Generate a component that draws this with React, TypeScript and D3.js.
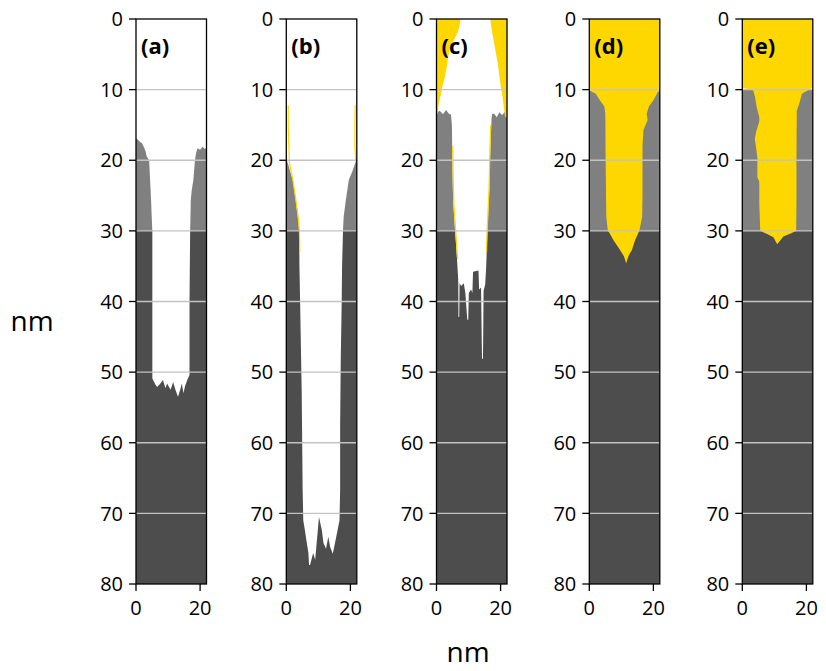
import React from "react";
import * as d3 from "d3";

type Pt = [number, number]; // [lateral position nm, depth nm]

// ---------- data ----------
const panelLabels = ["(a)", "(b)", "(c)", "(d)", "(e)"];
const depthTicks = [0, 10, 20, 30, 40, 50, 60, 70, 80];
const widthTicks = [0, 20];
const gridDepths = [10, 20, 30, 40, 50, 60, 70];
const substrateTop = 30;
const widthMax = 22;
const depthMax = 80;

// top surface of the mask layer (gray), left to right
const maskTopA: Pt[] = [[0, 16.9], [0.6, 17.1], [1.3, 17.4], [1.9, 17.6], [2.9, 18.6], [3.4, 19.5], [18.7, 19.0], [19.2, 18.3], [20, 18.5], [20.8, 18.1], [21.5, 18.4], [22, 18.2]];
const maskTopB: Pt[] = [[0, 19.8], [22, 19.8]];
const maskTopC: Pt[] = [[0, 13.3], [1, 13.0], [2, 13.5], [3, 12.9], [4, 13.5], [18, 13.4], [18.8, 13.9], [19.6, 13.2], [20.5, 13.6], [21.4, 13.1], [22, 13.9]];
const maskTopD: Pt[] = [[0, 10], [22, 10]];
const maskTopE: Pt[] = [[0, 10], [22, 10]];

// etched trench outlines (air): left wall down, bottom, right wall up
const trenchA: Pt[] = [
  [3.0, 15], [3.4, 19.5], [4.1, 20], [4.4, 22.8], [4.7, 25.6], [4.9, 28], [5.1, 30], [5.1, 40], [5.1, 50.9],
  [6.1, 51.8], [6.6, 52.1], [7.6, 51.6], [8.4, 51.1], [9.2, 52.3], [9.7, 51.6], [10.8, 52.5], [11.6, 51.4],
  [12.3, 52.5], [13.1, 53.5], [13.8, 52.5], [14.3, 51.6], [14.8, 53.0], [15.3, 52.0], [16.0, 51.1], [16.7, 50.4],
  [16.7, 40], [16.9, 30], [17.1, 25.6], [17.4, 24.2], [17.9, 22.8], [18.4, 20], [18.75, 19.0], [19.2, 15],
];
const trenchB: Pt[] = [
  [0, 10], [0, 19.8], [0.6, 20.6], [1.2, 21.6], [2.0, 22.8], [2.9, 25.6], [3.6, 28], [4.0, 29.9], [4.1, 35.1],
  [4.3, 39.8], [4.5, 45], [4.8, 52.5], [5.0, 62], [5.1, 66.7], [5.3, 71.0],
  [5.8, 72.4], [6.4, 74.2], [6.9, 75.6], [7.1, 77.3], [7.4, 77.3], [8.4, 75.6], [9.0, 76.6], [10.2, 70.5],
  [11.1, 72.4], [11.6, 74.2], [12.4, 75.0], [13.1, 73.3], [13.7, 74.8], [14.5, 75.7], [15.2, 74.2],
  [15.9, 72.6], [16.6, 71.0], [16.8, 66.7], [16.8, 57.5], [17.0, 48], [17.3, 39.8], [17.4, 35.1],
  [17.7, 29.9], [17.9, 28], [18.6, 25.6], [19.5, 22.8], [20.6, 21.6], [21.8, 20], [22, 19.8], [22, 10],
];
const trenchC: Pt[] = [
  [3.8, 11.5], [4.5, 13.5], [4.8, 15], [4.9, 18], [5.0, 22], [5.2, 26], [5.5, 28], [5.8, 30], [6.1, 32],
  [6.4, 34], [6.7, 36.3], [6.8, 37.4],
  [6.85, 42.2], [7.1, 42.2], [7.2, 37.4], [7.7, 37.8], [8.5, 37.4], [9.0, 38.8], [9.6, 42.6], [9.9, 42.6],
  [10.1, 38.8], [10.8, 38.3], [11.2, 38.8], [11.4, 35.8], [13.1, 35.6], [13.3, 38.3], [13.9, 38.0],
  [14.2, 48.1], [14.5, 48.1], [14.7, 38.5], [15.2, 37.6],
  [15.5, 35.1], [15.9, 30], [16.2, 27], [16.5, 24], [16.7, 20], [17.0, 16], [17.2, 14], [17.8, 12],
];

// deposited layer (yellow)
const depositC1: Pt[] = [[0, 0], [7.5, 0], [7.2, 1.0], [6.5, 2.0], [5.2, 3.2], [4.2, 4.2], [3.6, 5.5], [3.2, 6.8], [2.6, 8.2], [1.8, 9.6], [1.2, 11.0], [0.6, 12.4], [0.4, 13.4], [0, 13.4]];
const depositC2: Pt[] = [[16.8, 0], [22, 0], [22, 14.0], [21.4, 13.8], [21.0, 12.5], [20.6, 11], [20.1, 9.6], [19.6, 8.0], [19.2, 6.5], [18.6, 5.0], [18.0, 3.5], [17.4, 2.0], [17.0, 0.8]];
const depositD: Pt[] = [
  [0, 0], [22, 0], [22, 10.1], [21.3, 10.4], [20.0, 11.5], [18.6, 12.4], [17.9, 13.4], [18.2, 14.3], [16.9, 15.7],
  [16.6, 18], [16.6, 25], [16.5, 28], [15.6, 30], [15.3, 30.3], [14.3, 31.3], [13.3, 32.7], [12.3, 33.5],
  [11.5, 34.6], [10.8, 33.6], [9.6, 32.7], [7.5, 31.3], [6.3, 30.3], [5.8, 30], [5.3, 28], [5.1, 20],
  [5.0, 13.4], [4.7, 12.4], [3.3, 11.5], [2.0, 10.6], [0.8, 10.3], [0, 10.1],
];
const depositE: Pt[] = [
  [0, 0], [22, 0], [22, 9.7], [21.2, 9.9], [20.5, 10.1], [18.6, 10.6], [18.0, 11.6], [17.6, 12.2], [17.0, 13.0],
  [16.9, 20], [16.9, 26], [16.8, 30.0], [14.9, 30.4], [12.8, 30.8], [10.9, 31.9], [9.7, 30.9], [7.6, 30.4],
  [5.6, 30.0], [5.3, 26], [5.3, 23], [4.7, 22.4], [4.7, 19.6], [4.3, 18.2], [3.9, 17], [4.3, 16], [5.3, 14.5],
  [5.3, 13.9], [4.5, 12.5], [4.0, 11.1], [3.4, 10.1], [2.0, 9.9], [0, 9.8],
];

// thin deposit traces along the side walls
const linersB: Pt[][] = [
  [[0.6, 12.2], [0.6, 15], [0.8, 18], [1.0, 20.4], [2.1, 22.9], [3.0, 25.6], [3.7, 28], [4.1, 30], [4.2, 33]],
  [[21.5, 12.2], [21.4, 15], [21.4, 18], [21.6, 20]],
];
const linersC: Pt[][] = [
  [[5.1, 18], [5.2, 22], [5.4, 26], [5.7, 28], [6.0, 30], [6.3, 32], [6.6, 34]],
  [[16.9, 15], [16.6, 20], [16.4, 24], [16.1, 27], [15.8, 30], [15.6, 33]],
];

// ---------- layout ----------
const panelLefts = [136, 286.3, 436.5, 589.3, 742.3];
const panelWidth = 70.5;
const plotTop = 19;
const plotBottom = 584;

const COLORS = {
  air: "#ffffff",
  mask: "#808080",
  substrate: "#4d4d4d",
  deposit: "#ffd700",
  grid: "#c3c3c3",
};

const panels = [
  { maskTop: maskTopA, trench: trenchA, deposits: [] as Pt[][], liners: [] as Pt[][] },
  { maskTop: maskTopB, trench: trenchB, deposits: [], liners: linersB },
  { maskTop: maskTopC, trench: trenchC, deposits: [depositC1, depositC2], liners: linersC },
  { maskTop: maskTopD, trench: null as Pt[] | null, deposits: [depositD], liners: [] },
  { maskTop: maskTopE, trench: null, deposits: [depositE], liners: [] },
];

const FONT = "'Open Sans', 'DejaVu Sans', sans-serif";

function Panel({ idx }: { idx: number }) {
  const p = panels[idx];
  const x = d3.scaleLinear().domain([0, widthMax]).range([0, panelWidth]);
  const y = d3.scaleLinear().domain([0, depthMax]).range([0, plotBottom - plotTop]);
  const line = d3.line<Pt>().x((d) => x(d[0])).y((d) => y(d[1]));
  const poly = (pts: Pt[]) => (line(pts) || "") + "Z";
  const maskPoly: Pt[] = [...p.maskTop, [widthMax, substrateTop], [0, substrateTop]];
  const clipId = `clip-${idx}`;
  const h = plotBottom - plotTop;
  return (
    <g transform={`translate(${panelLefts[idx]},${plotTop})`}>
      <defs>
        <clipPath id={clipId}>
          <rect x={0} y={0} width={panelWidth} height={h} />
        </clipPath>
      </defs>
      <g clipPath={`url(#${clipId})`}>
        <rect x={0} y={0} width={panelWidth} height={h} fill={COLORS.air} />
        <rect x={0} y={y(substrateTop)} width={panelWidth} height={y(depthMax) - y(substrateTop)} fill={COLORS.substrate} />
        <path d={poly(maskPoly)} fill={COLORS.mask} />
        {p.trench && <path d={poly(p.trench)} fill={COLORS.air} />}
        {p.deposits.map((dp, i) => (
          <path key={i} d={poly(dp)} fill={COLORS.deposit} />
        ))}
        {p.liners.map((ln, i) => (
          <path key={i} d={line(ln) || ""} fill="none" stroke={COLORS.deposit} strokeWidth={1.2} />
        ))}
        {gridDepths.map((g) => (
          <line key={g} x1={0} x2={panelWidth} y1={y(g)} y2={y(g)} stroke={COLORS.grid} strokeWidth={1.4} />
        ))}
      </g>
      <rect x={0} y={0} width={panelWidth} height={h} fill="none" stroke="#000" strokeWidth={1.3} />
      {depthTicks.map((t) => (
        <g key={t} transform={`translate(0,${y(t)})`}>
          <line x1={-7} x2={0} stroke="#000" strokeWidth={1.3} />
          <text x={-13} dy="0.36em" textAnchor="end" fontSize={20} fontFamily={FONT} fill="#000">
            {t}
          </text>
        </g>
      ))}
      {widthTicks.map((t) => (
        <g key={t} transform={`translate(${x(t)},${h})`}>
          <line y1={0} y2={7} stroke="#000" strokeWidth={1.3} />
          <text y={31} textAnchor="middle" fontSize={20} fontFamily={FONT} fill="#000">
            {t}
          </text>
        </g>
      ))}
      <text x={5} y={35} fontSize={22} fontWeight="bold" fontFamily={FONT} fill="#000">
        {panelLabels[idx]}
      </text>
    </g>
  );
}

export default function App() {
  return (
    <svg width={826} height={671} style={{ position: "absolute", left: 0, top: 0, background: "#fff" }}>
      {panels.map((_, i) => (
        <Panel key={i} idx={i} />
      ))}
      <text x={32} y={331} textAnchor="middle" fontSize={28} fontFamily={FONT} fill="#000">
        nm
      </text>
      <text x={468} y={662} textAnchor="middle" fontSize={28} fontFamily={FONT} fill="#000">
        nm
      </text>
    </svg>
  );
}
